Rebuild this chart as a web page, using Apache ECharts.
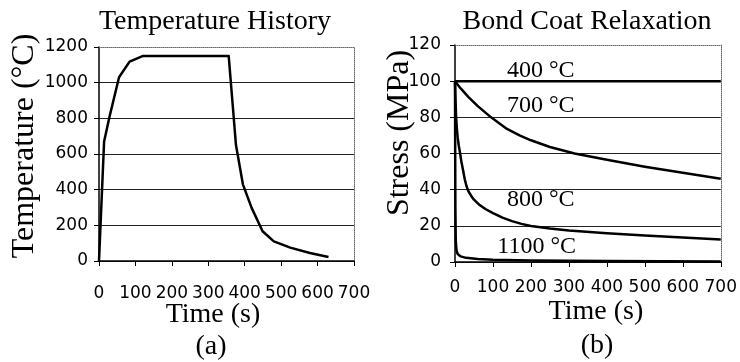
<!DOCTYPE html>
<html>
<head>
<meta charset="utf-8">
<script src="https://cdn.jsdelivr.net/npm/echarts@6/dist/echarts.min.js"></script>
<style>
  html, body { margin: 0; padding: 0; background: #fff; }
  #chart { width: 740px; height: 362px; }
</style>
</head>
<body>
<div id="chart"></div>
<script>
// (a) Temperature history of the thermal cycle
const timeTemp = [0, 14, 29, 55, 84, 121, 356, 366, 376, 395, 419, 449, 480, 525, 579, 630];
const tempC    = [0, 670, 810, 1030, 1118, 1150, 1150, 900, 650, 430, 298, 167, 110, 75, 45, 22];

// (b) Bond coat stress relaxation at several temperatures
const relaxNames = ['400 °C', '700 °C', '800 °C', '1100 °C'];
const time400 = [0, 700];
const stress400 = [100, 100];
const time700 = [0, 15, 35, 60, 95, 137, 170, 200, 250, 315, 400, 500, 600, 700];
const stress700 = [100, 96, 91.3, 86.2, 80, 73.6, 70, 67.3, 63.6, 60, 56.5, 52.7, 49.3, 46];
const time800 = [0, 1, 2, 3, 5, 7, 10, 13.5, 17, 21, 26, 30, 33, 37, 40, 45, 50, 65, 80, 100, 125, 150, 175, 200, 250, 300, 400, 500, 600, 700];
const stress800 = [100, 92, 85.5, 80, 73.5, 69, 64.3, 60, 55.3, 51, 45.5, 42.2, 40.3, 38.5, 37.4, 35.8, 34.5, 31.5, 29.3, 27, 24.5, 22.6, 21.1, 19.9, 18.5, 17.4, 15.9, 14.6, 13.5, 12.4];
const time1100 = [0, 0.5, 1, 2, 4, 7, 15, 29, 60, 100, 200, 400, 700];
const stress1100 = [100, 60, 30, 12, 6.5, 4.4, 3.1, 2.3, 1.6, 1.2, 0.8, 0.5, 0.3];

// Tick labels
const timeTicks = [0, 100, 200, 300, 400, 500, 600, 700];
const tempTicks = [0, 200, 400, 600, 800, 1000, 1200];
const stressTicks = [0, 20, 40, 60, 80, 100, 120];

const pair = (xs, ys) => xs.map((x, i) => [x, ys[i]]);

const SERIF = '"Liberation Serif", "Times New Roman", serif';
const SANS = '"DejaVu Sans", Arial, sans-serif';

const tickLabel = (margin) => ({
  margin, fontFamily: SANS, fontSize: 17, color: '#000',
  formatter: (v) => String(v)
});
const nameStyle = (size, padding) => ({ fontFamily: SERIF, fontSize: size, color: '#000', padding });

function bottomX(grid, ticks, labelMargin, nameGap, namePad) {
  return {
    gridIndex: grid, type: 'value', min: ticks[0], max: ticks[ticks.length - 1],
    interval: ticks[1] - ticks[0],
    axisLine: { show: true, lineStyle: { color: '#000', width: 1.5 } },
    axisTick: { show: true, length: 5, lineStyle: { color: '#000' } },
    axisLabel: tickLabel(labelMargin),
    splitLine: { show: false },
    name: 'Time (s)', nameLocation: 'middle', nameGap, nameMoveOverlap: false,
    nameTextStyle: nameStyle(28, namePad)
  };
}
function frameX(grid, ticks) {
  return {
    gridIndex: grid, type: 'value', position: 'top', min: ticks[0], max: ticks[ticks.length - 1],
    axisLine: { show: true, onZero: false, lineStyle: { color: '#666', width: 1, type: 'dotted' } },
    axisTick: { show: false }, axisLabel: { show: false }, splitLine: { show: false }
  };
}
function leftY(grid, ticks, labelMargin, name, nameGap, namePad) {
  return {
    gridIndex: grid, type: 'value', min: ticks[0], max: ticks[ticks.length - 1],
    interval: ticks[1] - ticks[0],
    axisLine: { show: true, lineStyle: { color: '#000', width: 1.5 } },
    axisTick: { show: true, length: 5, lineStyle: { color: '#000' } },
    axisLabel: tickLabel(labelMargin),
    splitLine: { show: true, showMaxLine: false, lineStyle: { color: '#222', width: 1 } },
    name, nameLocation: 'middle', nameGap, nameMoveOverlap: false,
    nameTextStyle: nameStyle(32, namePad)
  };
}
function frameY(grid, ticks) {
  return {
    gridIndex: grid, type: 'value', position: 'right', min: ticks[0], max: ticks[ticks.length - 1],
    axisLine: { show: true, onZero: false, lineStyle: { color: '#666', width: 1, type: 'dotted' } },
    axisTick: { show: false }, axisLabel: { show: false }, splitLine: { show: false }
  };
}

// Curve annotations placed in data coordinates [time, stress]
const relaxLabelAt = [[226, 106], [226, 86.4], [226, 34.4], [215, 8.6]];
const relaxData = [pair(time400, stress400), pair(time700, stress700), pair(time800, stress800), pair(time1100, stress1100)];

const lineStyle = { color: '#000', width: 2.5, join: 'round' };

const option = {
  animation: false,
  backgroundColor: '#fff',
  grid: [
    { left: 99, top: 47, width: 255, height: 214 },
    { left: 455, top: 45, width: 270, height: 217 }
  ],
  xAxis: [
    bottomX(0, timeTicks, 24, 40, [0, 27, 0, 0]),
    frameX(0, timeTicks),
    bottomX(1, timeTicks, 17, 36, [0, 0, 0, 16]),
    frameX(1, timeTicks)
  ],
  yAxis: [
    leftY(0, tempTicks, 11, 'Temperature (°C)', 58, [0, 0, 0, 16]),
    frameY(0, tempTicks),
    leftY(1, stressTicks, 14, 'Stress (MPa)', 39, [0, 0, 0, 41]),
    frameY(1, stressTicks)
  ],
  graphic: [
    { type: 'text', x: 215, y: 21.5, style: { text: 'Temperature History', font: '28px ' + SERIF, fill: '#000', align: 'center', verticalAlign: 'middle' } },
    { type: 'text', x: 587, y: 21.5, style: { text: 'Bond Coat Relaxation', font: '28px ' + SERIF, fill: '#000', align: 'center', verticalAlign: 'middle' } },
    { type: 'text', x: 211, y: 347, style: { text: '(a)', font: '28px ' + SERIF, fill: '#000', align: 'center', verticalAlign: 'middle' } },
    { type: 'text', x: 597, y: 346, style: { text: '(b)', font: '28px ' + SERIF, fill: '#000', align: 'center', verticalAlign: 'middle' } }
  ],
  series: [
    {
      name: 'Temperature', type: 'line', xAxisIndex: 0, yAxisIndex: 0,
      data: pair(timeTemp, tempC), showSymbol: false, lineStyle, z: 5
    }
  ].concat(relaxNames.map((nm, i) => ({
    name: nm, type: 'line', xAxisIndex: 2, yAxisIndex: 2,
    data: relaxData[i], showSymbol: false, lineStyle, z: 5,
    markPoint: {
      symbol: 'rect', symbolSize: 1, itemStyle: { color: 'rgba(0,0,0,0)' },
      label: { show: true, position: 'inside', formatter: nm, fontFamily: SERIF, fontSize: 24, color: '#000' },
      data: [{ coord: relaxLabelAt[i] }]
    }
  })))
};

const chart = echarts.init(document.getElementById('chart'), null, { renderer: 'canvas' });
chart.setOption(option);
</script>
</body>
</html>
